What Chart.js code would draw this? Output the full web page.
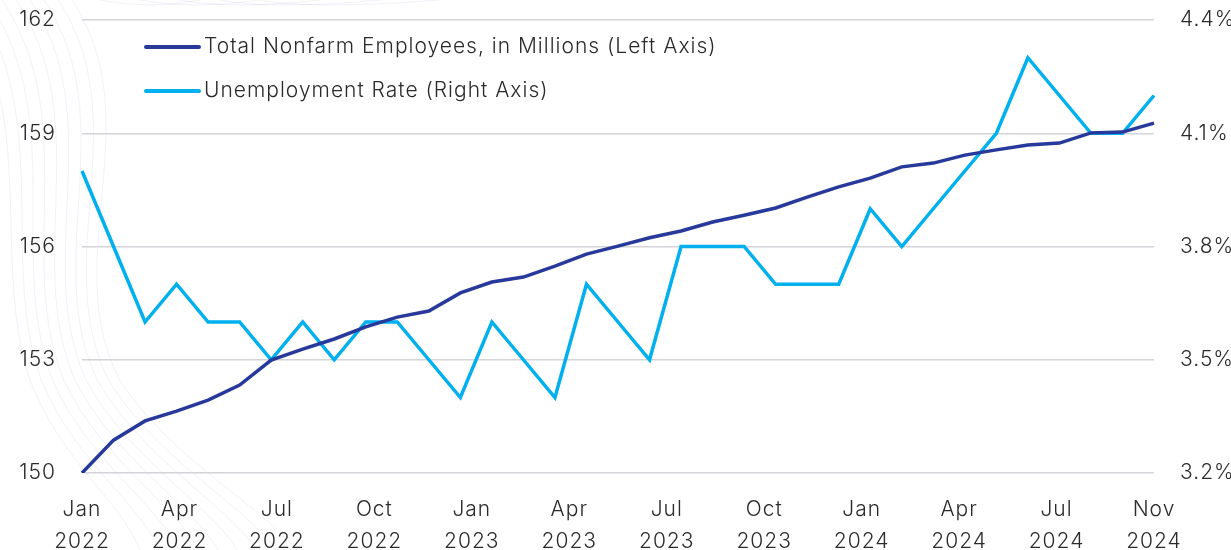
<!DOCTYPE html>
<html>
<head>
<meta charset="utf-8">
<script src="https://cdn.jsdelivr.net/npm/chart.js@4.4.1/dist/chart.umd.min.js"></script>
<style>
    html, body { margin: 0; padding: 0; background: #ffffff; }
    #wrap { width: 1231px; height: 550px; position: relative; }
</style>
</head>
<body>
<div id="wrap"><canvas id="chart"></canvas></div>
<script>
    var months = ['Jan', 'Feb', 'Mar', 'Apr', 'May', 'Jun', 'Jul', 'Aug', 'Sep', 'Oct', 'Nov', 'Dec'];
    var years = ['2022', '2023', '2024'];

    // Total nonfarm employees, millions (left axis)
    var payrolls = [
        150.0, 150.87, 151.38, 151.64, 151.93, 152.33, 152.99, 153.28, 153.55, 153.87, 154.13, 154.29,
        154.77, 155.06, 155.19, 155.48, 155.80, 156.01, 156.23, 156.41, 156.65, 156.83, 157.02, 157.31,
        157.58, 157.81, 158.11, 158.21, 158.42, 158.56, 158.69, 158.74, 159.01, 159.03, 159.27
    ];

    // Unemployment rate, percent (right axis)
    var unemployment = [
        4.0, 3.8, 3.6, 3.7, 3.6, 3.6, 3.5, 3.6, 3.5, 3.6, 3.6, 3.5,
        3.4, 3.6, 3.5, 3.4, 3.7, 3.6, 3.5, 3.8, 3.8, 3.8, 3.7, 3.7,
        3.7, 3.9, 3.8, 3.9, 4.0, 4.1, 4.3, 4.2, 4.1, 4.1, 4.2
    ];

    // the axis labels are spread evenly along the bottom, as in the source
    var tickLabels = [
        ['Jan', '2022'], ['Apr', '2022'], ['Jul', '2022'], ['Oct', '2022'],
        ['Jan', '2023'], ['Apr', '2023'], ['Jul', '2023'], ['Oct', '2023'],
        ['Jan', '2024'], ['Apr', '2024'], ['Jul', '2024'], ['Nov', '2024']
    ];

    var labels = payrolls.map(function (v, i) {
        return months[i % 12] + ' ' + years[Math.floor(i / 12)];
    });

    var colors = {
        navy: '#27399b',
        sky: '#00b0ef',
        grid: '#d4d4d8',
        text: '#2b2b2b',
        swirl: 'rgba(120, 120, 200, 0.10)'
    };

    var fontFamily = "'Inter', 'Roboto', sans-serif";
    var tickFont = { family: fontFamily, size: 21, weight: 300 };

    // faint decorative contour lines behind the chart, plus wider letter spacing
    var swirlPlugin = {
        id: 'swirl',
        beforeLayout: function (chart) {
            chart.ctx.letterSpacing = '1px';
        },
        beforeDraw: function (chart) {
            var ctx = chart.ctx;
            ctx.letterSpacing = '1px';
            ctx.save();
            ctx.strokeStyle = colors.swirl;
            ctx.lineWidth = 1;
            for (var k = 0; k < 9; k++) {
                var off = k * 14;
                ctx.beginPath();
                ctx.moveTo(-40 + off, 0);
                ctx.bezierCurveTo(40 + off, 120, -10 + off * 0.6, 260, 30 + off * 0.8, 380);
                ctx.bezierCurveTo(60 + off, 460, 120 + off * 1.2, 500, 140 + off * 1.4, 550);
                ctx.stroke();
            }
            for (var j = 0; j < 5; j++) {
                ctx.beginPath();
                ctx.moveTo(100 + j * 40, 0);
                ctx.quadraticCurveTo(150 + j * 40, 10, 200 + j * 60, 0);
                ctx.stroke();
            }
            ctx.restore();
        }
    };

    // legend drawn inside the plot area, top left
    var legendPlugin = {
        id: 'insideLegend',
        afterDatasetsDraw: function (chart) {
            var ctx = chart.ctx;
            var x0 = chart.chartArea.left + 64;
            var rows = [47, 91];
            ctx.save();
            ctx.font = '300 21px ' + fontFamily;
            ctx.textBaseline = 'middle';
            chart.data.datasets.forEach(function (ds, i) {
                ctx.strokeStyle = ds.borderColor;
                ctx.lineWidth = 4;
                ctx.lineCap = 'round';
                ctx.beginPath();
                ctx.moveTo(x0, rows[i]);
                ctx.lineTo(x0 + 53, rows[i]);
                ctx.stroke();
                ctx.fillStyle = colors.text;
                ctx.fillText(ds.label, x0 + 58, rows[i]);
            });
            ctx.restore();
        }
    };

    function fitY(width) {
        return function (scale) {
            scale.width = width;
            scale.paddingTop = 12;
            scale.paddingBottom = 12;
        };
    }

    new Chart(document.getElementById('chart'), {
        type: 'line',
        data: {
            labels: labels,
            datasets: [
                {
                    label: 'Total Nonfarm Employees, in Millions (Left Axis)',
                    data: payrolls,
                    borderColor: colors.navy,
                    borderWidth: 3.5,
                    pointRadius: 0,
                    tension: 0,
                    yAxisID: 'y'
                },
                {
                    label: 'Unemployment Rate (Right Axis)',
                    data: unemployment,
                    borderColor: colors.sky,
                    borderWidth: 3.5,
                    pointRadius: 0,
                    tension: 0,
                    yAxisID: 'y1'
                }
            ]
        },
        options: {
            responsive: true,
            maintainAspectRatio: false,
            animation: false,
            layout: { padding: { top: 20, left: 0, right: 0, bottom: 0 } },
            plugins: { legend: { display: false }, tooltip: { enabled: false } },
            scales: {
                x: {
                    display: false,
                    offset: false
                },
                xLabels: {
                    type: 'category',
                    position: 'bottom',
                    labels: tickLabels,
                    offset: false,
                    grid: { display: false, drawTicks: false },
                    border: { display: false },
                    ticks: {
                        autoSkip: false,
                        maxRotation: 0,
                        padding: 20,
                        color: colors.text,
                        font: { family: fontFamily, size: 21, weight: 300, lineHeight: 1.55 }
                    },
                    afterFit: function (scale) { scale.height = 77; }
                },
                y: {
                    position: 'left',
                    min: 150,
                    max: 162,
                    grid: { color: colors.grid, lineWidth: 1.5, drawTicks: false },
                    border: { display: false },
                    ticks: {
                        stepSize: 3,
                        padding: 26,
                        color: colors.text,
                        font: tickFont
                    },
                    afterFit: fitY(82)
                },
                y1: {
                    position: 'right',
                    min: 3.2,
                    max: 4.4,
                    grid: { display: false, drawTicks: false },
                    border: { display: false },
                    ticks: {
                        stepSize: 0.3,
                        padding: 26,
                        color: colors.text,
                        font: tickFont,
                        callback: function (value) { return value.toFixed(1) + '%'; }
                    },
                    afterFit: fitY(77)
                }
            }
        },
        plugins: [swirlPlugin, legendPlugin]
    });
</script>
</body>
</html>
